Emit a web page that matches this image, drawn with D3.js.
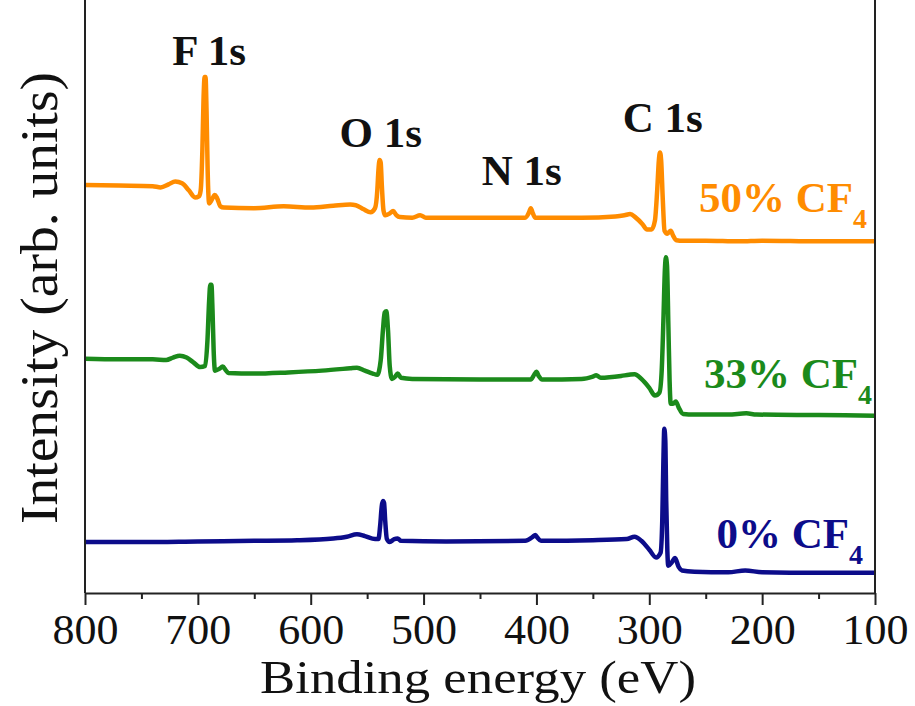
<!DOCTYPE html>
<html>
<head>
<meta charset="utf-8">
<script src="https://cdn.jsdelivr.net/npm/d3@7"></script>
<style>
  body { margin: 0; background: #fff; }
  text { font-family: "Liberation Serif", "DejaVu Serif", serif; }
</style>
</head>
<body>
<div id="chart"></div>
<script>
//XPS survey spectra, [binding energy (eV), intensity (arb. units)]
var spectrum50 = [[800,68.8],[770,68.7],[740,68.6],[733,68.4],[726,68.9],[720,69.4],[714,69.1],[708,67.9],[702.5,66.7],[699,66.9],[697.5,67.9],[696,74.7],[695,83.1],[694,87.0],[693.2,87.0],[692.3,81.3],[691.3,71.1],[690,65.7],[688,66.2],[685,67.1],[683,66.6],[680,65.2],[677,65.0],[650,64.9],[624,65.2],[600,65.0],[580,65.3],[565,65.5],[560,65.4],[553,64.7],[547,64.2],[543,64.9],[541,67.9],[540,71.3],[539,73.0],[538,72.6],[537,68.8],[535.5,64.5],[534,63.7],[530,64.0],[527,64.4],[524,63.7],[521,63.4],[510,63.3],[503,63.7],[498,63.3],[450,63.3],[410,63.3],[406.5,64.2],[405,64.9],[403.5,64.2],[401,63.3],[360,63.3],[330,63.5],[322,63.7],[317,63.9],[312,63.3],[306,62.2],[302,61.3],[298,61.3],[295,62.8],[293,67.9],[291.5,73.0],[290.5,74.3],[289.5,73.0],[288,66.2],[286.5,61.1],[284,60.6],[281,61.1],[279,60.3],[276,59.5],[270,59.4],[250,59.4],[220,59.3],[200,59.4],[150,59.3],[100,59.3]];

var spectrum33 = [[800,39.5],[770,39.4],[740,39.4],[728,39.3],[722,39.7],[716,40.0],[710,39.7],[704,38.9],[698,38.1],[693.5,38.3],[691.5,42.6],[690,49.3],[689,52.0],[688,52.0],[687,47.6],[686,40.9],[684.8,37.5],[681,37.8],[678,38.2],[675,37.5],[673,37.1],[650,37.0],[620,37.2],[590,37.5],[565,37.9],[559,38.0],[552,37.5],[545,37.0],[541,36.8],[538,39.2],[536,44.3],[534.5,47.3],[533,47.5],[531.5,44.3],[530,38.3],[528,36.1],[525,36.5],[523,37.0],[520,36.3],[510,36.1],[450,36.0],[405,36.0],[402,36.8],[400,37.3],[398,36.6],[395,36.0],[360,36.1],[350,36.5],[347,36.7],[343,36.3],[325,36.6],[318,36.8],[313,36.9],[307,36.1],[300,34.6],[295,33.3],[291,33.8],[289,37.5],[287.5,45.9],[286.2,54.4],[285.3,56.6],[284.3,55.2],[283,44.3],[282,35.8],[281,31.9],[279,31.9],[276.5,32.3],[274,31.3],[270,30.2],[260,30.1],[230,30.1],[214,30.3],[205,30.1],[150,30.0],[100,29.9]];

var spectrum0 = [[800,8.6],[750,8.6],[700,8.7],[650,8.8],[612,8.9],[580,9.2],[568,9.5],[559,9.9],[552,9.6],[543,9.1],[540,9.1],[538.5,11.3],[537,14.7],[536,15.5],[535,15.2],[534,12.2],[532.5,9.1],[530,8.6],[526,9.1],[523,9.2],[520,8.8],[480,8.7],[410,8.8],[403,9.5],[401,9.8],[399,9.3],[396,8.8],[350,8.9],[320,9.1],[313,9.5],[307,8.8],[300,7.3],[294,6.0],[290,6.8],[288.5,12.2],[287.5,22.3],[286.7,27.7],[285.8,25.7],[285,15.5],[284,7.1],[283.2,4.6],[280,5.2],[277.2,5.9],[274,4.4],[271,3.8],[260,3.6],[230,3.5],[215,3.8],[200,3.5],[150,3.4],[100,3.4]];

//Series names, colours and where their labels end [energy, intensity]
var seriesNames = ["50% CF", "33% CF", "0% CF"];
var seriesColors = ["#ff8c00", "#1b8a1b", "#0c0c8a"];
var seriesLabelPos = [[107, 64.2], [102.6, 34.6], [110.6, 7.6]];

//Peak labels [energy, intensity]
var peakNames = ["F 1s", "O 1s", "N 1s", "C 1s"];
var peakPos = [[690, 89.0], [538, 75.2], [413, 68.8], [288, 77.7]];

var xTicks = [800, 700, 600, 500, 400, 300, 200, 100];
var xMinorTicks = [750, 650, 550, 450, 350, 250, 150];

//Establishing SVG Height and Width
var svgWidth = 915;
var svgHeight = 706;

var margin = { top: 0, right: 40, bottom: 113, left: 85 };
var width = svgWidth - margin.left - margin.right;
var height = svgHeight - margin.top - margin.bottom;

var svg = d3.select("#chart")
  .append("svg")
  .attr("width", svgWidth)
  .attr("height", svgHeight);

var chartGroup = svg.append("g")
  .attr("transform", `translate(${margin.left}, ${margin.top})`);

//Scales, binding energy runs right to left
var xScale = d3.scaleLinear().domain([800, 100]).range([0, width]);
var yScale = d3.scaleLinear().domain([0, 100]).range([height, 0]);

//Lines
var line = d3.line()
  .x(d => xScale(d[0]))
  .y(d => yScale(d[1]))
  .curve(d3.curveMonotoneX);

var spectra = [spectrum50, spectrum33, spectrum0];

chartGroup.selectAll(".spectrum")
  .data(spectra)
  .enter()
  .append("path")
  .attr("class", "spectrum")
  .attr("d", d => line(d))
  .attr("fill", "none")
  .attr("stroke", (d, i) => seriesColors[i])
  .attr("stroke-width", 4.5)
  .attr("stroke-linejoin", "round");

//Frame
chartGroup.append("line")
  .attr("x1", 0).attr("x2", 0)
  .attr("y1", -2).attr("y2", height)
  .attr("stroke", "#222").attr("stroke-width", 2);
chartGroup.append("line")
  .attr("x1", width).attr("x2", width)
  .attr("y1", -2).attr("y2", height)
  .attr("stroke", "#222").attr("stroke-width", 2);

//X axis with major and minor ticks
var xAxis = chartGroup.append("g")
  .attr("transform", `translate(0, ${height})`)
  .call(d3.axisBottom(xScale).tickValues(xTicks).tickSize(12).tickPadding(9).tickSizeOuter(0));

xAxis.select(".domain").attr("stroke", "#222").attr("stroke-width", 2);
xAxis.selectAll(".tick line").attr("stroke", "#222").attr("stroke-width", 2);
xAxis.selectAll(".tick text")
  .attr("font-size", 42)
  .attr("fill", "#111")
  .attr("textLength", 66)
  .attr("lengthAdjust", "spacingAndGlyphs");

var minorAxis = chartGroup.append("g")
  .attr("transform", `translate(0, ${height})`)
  .call(d3.axisBottom(xScale).tickValues(xMinorTicks).tickSize(6).tickFormat(""));
minorAxis.select(".domain").remove();
minorAxis.selectAll(".tick line").attr("stroke", "#222").attr("stroke-width", 2);

//Axis titles
svg.append("text")
  .attr("x", 478)
  .attr("y", 693)
  .attr("text-anchor", "middle")
  .attr("font-size", 47)
  .attr("fill", "#111")
  .attr("textLength", 436)
  .attr("lengthAdjust", "spacingAndGlyphs")
  .text("Binding energy (eV)");

svg.append("text")
  .attr("transform", "rotate(-90)")
  .attr("x", -298)
  .attr("y", 57)
  .attr("text-anchor", "middle")
  .attr("font-size", 52)
  .attr("fill", "#111")
  .attr("textLength", 452)
  .attr("lengthAdjust", "spacingAndGlyphs")
  .text("Intensity (arb. units)");

//Peak labels
chartGroup.selectAll(".peak")
  .data(peakNames)
  .enter()
  .append("text")
  .attr("class", "peak")
  .attr("x", (d, i) => xScale(peakPos[i][0]))
  .attr("y", (d, i) => yScale(peakPos[i][1]))
  .attr("text-anchor", "middle")
  .attr("font-size", 43)
  .attr("font-weight", "bold")
  .attr("fill", "#111")
  .text(d => d);

//Series labels with subscript 4
var seriesLabels = chartGroup.selectAll(".series-label")
  .data(seriesNames)
  .enter()
  .append("text")
  .attr("class", "series-label")
  .attr("x", (d, i) => xScale(seriesLabelPos[i][0]))
  .attr("y", (d, i) => yScale(seriesLabelPos[i][1]))
  .attr("text-anchor", "end")
  .attr("font-size", 43)
  .attr("font-weight", "bold")
  .attr("fill", (d, i) => seriesColors[i]);

seriesLabels.append("tspan").text(d => d);
seriesLabels.append("tspan")
  .attr("font-size", 28)
  .attr("dy", 16)
  .text("4");
</script>
</body>
</html>
